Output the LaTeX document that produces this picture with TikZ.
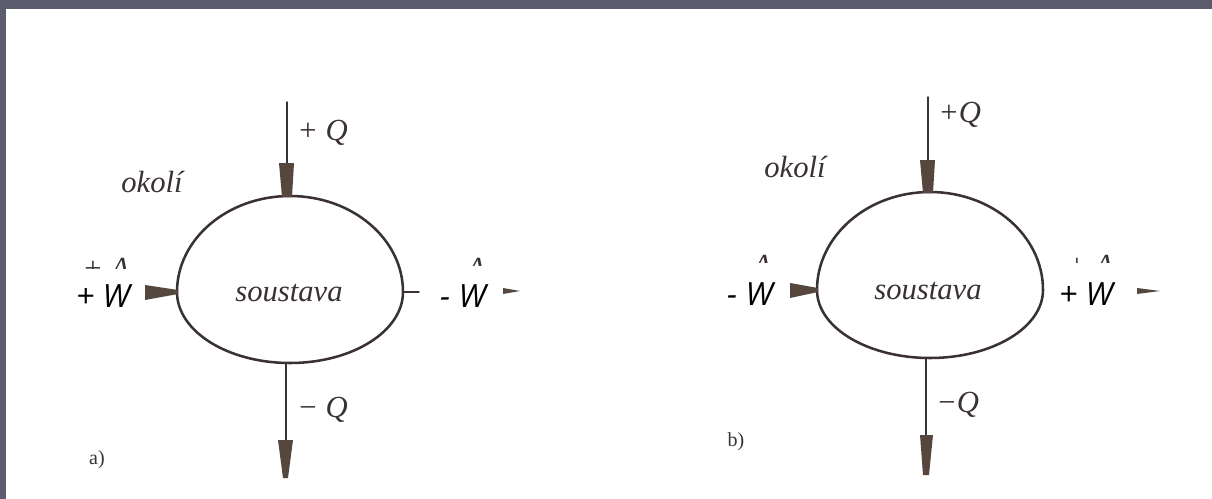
\documentclass[tikz,border=0pt]{standalone}
\usepackage{fontspec}
\setmainfont{Liberation Serif}
\newfontfamily\wfont{Open Sans}
\usetikzlibrary{calc}

\definecolor{frame}{HTML}{5B5C6C}
\definecolor{ink}{HTML}{3A3230}
\definecolor{tipbrown}{HTML}{55463E}

\begin{document}
\begin{tikzpicture}[x=0.75pt, y=-0.75pt, line cap=round, line join=round,
    blobline/.style={ink, line width=1.9pt},
    flow/.style={ink, line width=1.1pt},
    wedge/.style={fill=tipbrown, draw=none},
    lbl/.style={ink, font=\fontsize{23}{27}\selectfont\itshape, inner sep=0pt},
    wlbl/.style={font=\fontsize{24}{28}\selectfont\wfont\itshape, inner sep=0pt},
    tag/.style={ink, font=\fontsize{15}{18}\selectfont, inner sep=0pt},
    cover/.style={fill=white, draw=none}]

    % --- 0. Page and frame ---
    \useasboundingbox (0,0) rectangle (1212,499);
    \fill[white] (0,0) rectangle (1212,499);
    \fill[frame] (0,0) rectangle (1212,9);
    \fill[frame] (0,0) rectangle (6,499);

    % --- 1. System a) ---
    \coordinate (aT) at (287,196);
    \coordinate (aB) at (286,363);
    \coordinate (aL) at (177,292);
    \coordinate (aR) at (403,292);
    \coordinate (aQin) at (287,102);
    \coordinate (aQout) at (286,440);
    \coordinate (aWout) at (419,292);
    \draw[blobline] (aL) arc[start angle=180, end angle=360, x radius=113, y radius=96]
        arc[start angle=0, end angle=180, x radius=113, y radius=71] -- cycle;
    % heat in and out
    \draw[flow] (aQin) -- (287,163);
    \fill[wedge] (279,163) -- (294,163) -- (292,197) -- (282,197) -- cycle;
    \draw[flow] (aB) -- (aQout);
    \fill[wedge] (278,440) -- (293,440) -- (288,478) -- (283,478) -- cycle;
    % work
    \fill[wedge] (145,285) -- (178,290) -- (178,294) -- (145,300) -- cycle;
    \draw[flow] (aR) -- (aWout);
    \fill[wedge] (503,288) -- (520,291) -- (503,294) -- cycle;

    \node[lbl, anchor=west] (aplusq) at (297,133) {+ Q};
    \node[lbl, anchor=west] (aminusq) at (297,410) {\char"2212\ Q};
    \node[lbl] (aokoli) at (152,182) {okolí};
    \node[lbl] (asoust) at (289,293) {soustava};
    \node[lbl, anchor=base] (aoldl) at (106,278) {+ A};
    \node[lbl, anchor=base] (aoldr) at (462,278) {\char"2212\ A};
    \node[tag] (atag) at (97,460) {a)};

    % white patches over the old labels
    \fill[cover] (53,269) rectangle (143,325);
    \fill[cover] (421,266) rectangle (501,322);
    \node[wlbl] (awin) at (103,296) {+ W};
    \node[wlbl] (awout) at (463,296) {- W};

    % --- 2. System b) ---
    \coordinate (bT) at (928,192);
    \coordinate (bB) at (926,358);
    \coordinate (bL) at (817,290);
    \coordinate (bR) at (1043,290);
    \coordinate (bQin) at (928,97);
    \coordinate (bQout) at (926,435);
    \draw[blobline] (bL) arc[start angle=180, end angle=360, x radius=113, y radius=98]
        arc[start angle=0, end angle=180, x radius=113, y radius=68] -- cycle;
    % heat in and out
    \draw[flow] (bQin) -- (928,160);
    \fill[wedge] (920,160) -- (935,160) -- (933,193) -- (923,193) -- cycle;
    \draw[flow] (bB) -- (bQout);
    \fill[wedge] (920,435) -- (933,435) -- (929,475) -- (923,475) -- cycle;
    % work
    \fill[wedge] (790,283) -- (818,288) -- (818,292) -- (790,298) -- cycle;
    \fill[wedge] (1137,288) -- (1160,291) -- (1137,294) -- cycle;

    \node[lbl, anchor=west] (bplusq) at (938,115) {+Q};
    \node[lbl, anchor=west] (bminusq) at (936,405) {\char"2212 Q};
    \node[lbl] (bokoli) at (795,167) {okolí};
    \node[lbl] (bsoust) at (928,291) {soustava};
    \node[lbl, anchor=base] (boldl) at (748,275) {\char"2212\ A};
    \node[lbl, anchor=base] (boldr) at (1090,275) {+ A};
    \node[tag] (btag) at (736,442) {b)};

    % white patches over the old labels
    \fill[cover] (707,263) rectangle (789,320);
    \fill[cover] (1047,263) rectangle (1136,320);
    \node[wlbl] (bwin) at (750,294) {- W};
    \node[wlbl] (bwout) at (1086,294) {+ W};
\end{tikzpicture}
\end{document}
